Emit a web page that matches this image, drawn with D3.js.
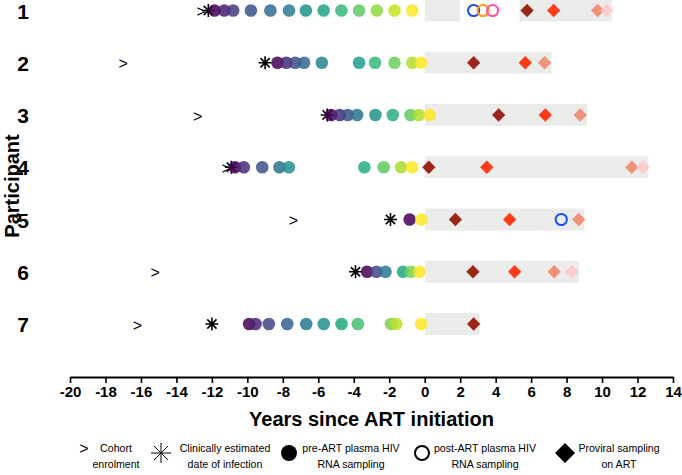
<!DOCTYPE html>
<html>
<head>
<meta charset="utf-8">
<script src="https://cdn.jsdelivr.net/npm/d3@7"></script>
<style>
  body { margin: 0; background: #fff; }
  svg { font-family: "Liberation Sans", Arial, sans-serif; }
</style>
</head>
<body>
<div id="chart"></div>
<script>
// participants and event times (years since ART initiation)
const participants = [1, 2, 3, 4, 5, 6, 7];
const enrolment = [-12.6, -17.0, -12.8, -11.2, -7.4, -15.2, -16.2];
const infection = [-12.2, -9.0, -5.5, -10.9, -1.93, -3.9, -12.0];
const preART = [
  [-11.85, -11.3, -10.8, -9.8, -8.7, -7.65, -6.7, -5.7, -4.7, -3.7, -2.7, -1.7, -0.7],
  [-8.3, -7.8, -7.3, -6.8, -5.8, -3.7, -2.8, -1.7, -0.7, -0.2],
  [-5.28, -4.79, -4.34, -3.81, -2.78, -1.8, -0.8, -0.33, 0.28],
  [-10.7, -10.2, -9.16, -8.19, -7.66, -3.4, -2.31, -1.33, -0.71],
  [-0.85, -0.19],
  [-3.25, -2.72, -2.21, -1.22, -0.77, -0.3],
  [-9.9, -9.54, -8.79, -7.75, -6.68, -5.69, -4.69, -3.77, -1.9, -1.6, -0.2]
];
const postART = [[2.76, 3.29, 3.83], [], [], [], [7.7], [], []];
const proviral = [
  [5.77, 7.27, 9.75, 10.28],
  [2.76, 5.67, 6.76],
  [4.17, 6.8, 8.77],
  [0.23, 3.5, 11.68, 12.3],
  [1.73, 4.79, 8.68],
  [2.72, 5.07, 7.3, 8.3],
  [2.76]
];
// periods on ART (start, end)
const onART = [
  [[0, 2], [5.35, 10.55]],
  [[0, 7.15]],
  [[0, 9.15]],
  [[0, 12.6]],
  [[0, 9.0]],
  [[0, 8.7]],
  [[0, 3.1]]
];
const xTicks = d3.range(-20, 15, 2);

const width = 682, height = 475;
const svg = d3.select("#chart").append("svg")
  .attr("width", width)
  .attr("height", height);

const x = d3.scaleLinear().domain([-20, 14]).range([70, 673]);
const y = d3.scalePoint().domain(participants).range([10.5, 324]);

const provColors = ["#931506", "#ff2a05", "#ee8a70", "#fdc8c8"];
const postColors = ["#1a4cff", "#ff9a1a", "#ff4fa8"];

function starPath(cx, cy, r) {
  let p = "";
  [0, 45, 90, 135].forEach(a => {
    const t = a * Math.PI / 180;
    const dx = Math.cos(t) * r, dy = Math.sin(t) * r;
    p += `M${cx - dx},${cy - dy}L${cx + dx},${cy + dy}`;
  });
  return p;
}

// grey bars = time on ART
const bars = svg.append("g");
participants.forEach((p, i) => {
  bars.selectAll(null)
    .data(onART[i])
    .enter().append("rect")
    .attr("x", d => x(d[0]))
    .attr("width", d => x(d[1]) - x(d[0]))
    .attr("y", y(p) - 11)
    .attr("height", 22)
    .attr("fill", "#ebebea");
});

// enrolment markers
svg.append("g").selectAll("text")
  .data(participants)
  .enter().append("text")
  .attr("x", (p, i) => x(enrolment[i]))
  .attr("y", p => y(p) + 1)
  .attr("text-anchor", "middle")
  .attr("dominant-baseline", "central")
  .attr("font-size", 16)
  .attr("fill", "#000")
  .text(">");

// infection markers
svg.append("g").selectAll("path")
  .data(participants)
  .enter().append("path")
  .attr("d", (p, i) => starPath(x(infection[i]), y(p), 6.5))
  .attr("stroke", "#000")
  .attr("stroke-width", 1.6);

// pre-ART samples, coloured by order
participants.forEach((p, i) => {
  const n = preART[i].length;
  svg.append("g").selectAll("circle")
    .data(preART[i])
    .enter().append("circle")
    .attr("cx", d => x(d))
    .attr("cy", y(p))
    .attr("r", 6.3)
    .attr("fill", (d, j) => d3.interpolateViridis(n > 1 ? j / (n - 1) : 0))
    .attr("fill-opacity", 0.85);

  svg.append("g").selectAll("circle")
    .data(postART[i])
    .enter().append("circle")
    .attr("cx", d => x(d))
    .attr("cy", y(p))
    .attr("r", 5.6)
    .attr("fill", "none")
    .attr("stroke", (d, j) => postColors[j])
    .attr("stroke-width", 2);

  svg.append("g").selectAll("path")
    .data(proviral[i])
    .enter().append("path")
    .attr("d", d3.symbol().type(d3.symbolSquare).size(88))
    .attr("transform", d => `translate(${x(d)},${y(p)}) rotate(45)`)
    .attr("fill", (d, j) => provColors[j])
    .attr("fill-opacity", 0.92);
});

// y labels
svg.append("g").selectAll("text")
  .data(participants)
  .enter().append("text")
  .attr("x", 23)
  .attr("y", p => y(p) + 8)
  .attr("text-anchor", "middle")
  .attr("font-size", 21)
  .attr("font-weight", "bold")
  .text(p => p);

svg.append("text")
  .attr("transform", "translate(19,186) rotate(-90)")
  .attr("text-anchor", "middle")
  .attr("font-size", 20)
  .attr("font-weight", "bold")
  .text("Participant");

// x axis
const axis = svg.append("g")
  .attr("transform", "translate(0,377)")
  .call(d3.axisBottom(x).tickValues(xTicks).tickFormat(d => String(d))
    .tickSize(6).tickPadding(3).tickSizeOuter(0));
axis.select(".domain").attr("stroke-width", 2).attr("stroke", "#000");
axis.selectAll(".tick line").attr("stroke-width", 1.6).attr("stroke", "#000");
axis.selectAll(".tick text")
  .attr("font-size", 15)
  .attr("font-weight", "bold")
  .attr("font-family", "Liberation Sans, Arial, sans-serif")
  .attr("fill", "#000");

svg.append("text")
  .attr("x", (x(-20) + x(14)) / 2)
  .attr("y", 426)
  .attr("text-anchor", "middle")
  .attr("font-size", 20)
  .attr("font-weight", "bold")
  .text("Years since ART initiation");

// legend
const lg = svg.append("g");
const ly = 455;
lg.append("text").attr("x", 84).attr("y", ly - 7).attr("text-anchor", "middle")
  .attr("dominant-baseline", "central").attr("font-size", 16).text(">");
lg.append("path").attr("d", starPath(161, ly - 2, 10))
  .attr("stroke", "#000").attr("stroke-width", 1);
lg.append("circle").attr("cx", 289).attr("cy", ly - 2).attr("r", 8).attr("fill", "#000");
lg.append("circle").attr("cx", 422).attr("cy", ly - 2).attr("r", 7)
  .attr("fill", "none").attr("stroke", "#000").attr("stroke-width", 2);
lg.append("path").attr("d", d3.symbol().type(d3.symbolSquare).size(200))
  .attr("transform", `translate(565,${ly - 2}) rotate(45)`).attr("fill", "#000");

const legendText = [
  [116, "Cohort", "enrolment"],
  [225, "Clinically estimated", "date of infection"],
  [351, "pre-ART plasma HIV", "RNA sampling"],
  [485, "post-ART plasma HIV", "RNA sampling"],
  [619, "Proviral sampling", "on ART"]
];
legendText.forEach(t => {
  const tx = lg.append("text").attr("text-anchor", "middle").attr("font-size", 10.6);
  tx.append("tspan").attr("x", t[0]).attr("y", ly - 3).text(t[1]);
  tx.append("tspan").attr("x", t[0]).attr("y", ly + 13).text(t[2]);
});
</script>
</body>
</html>
